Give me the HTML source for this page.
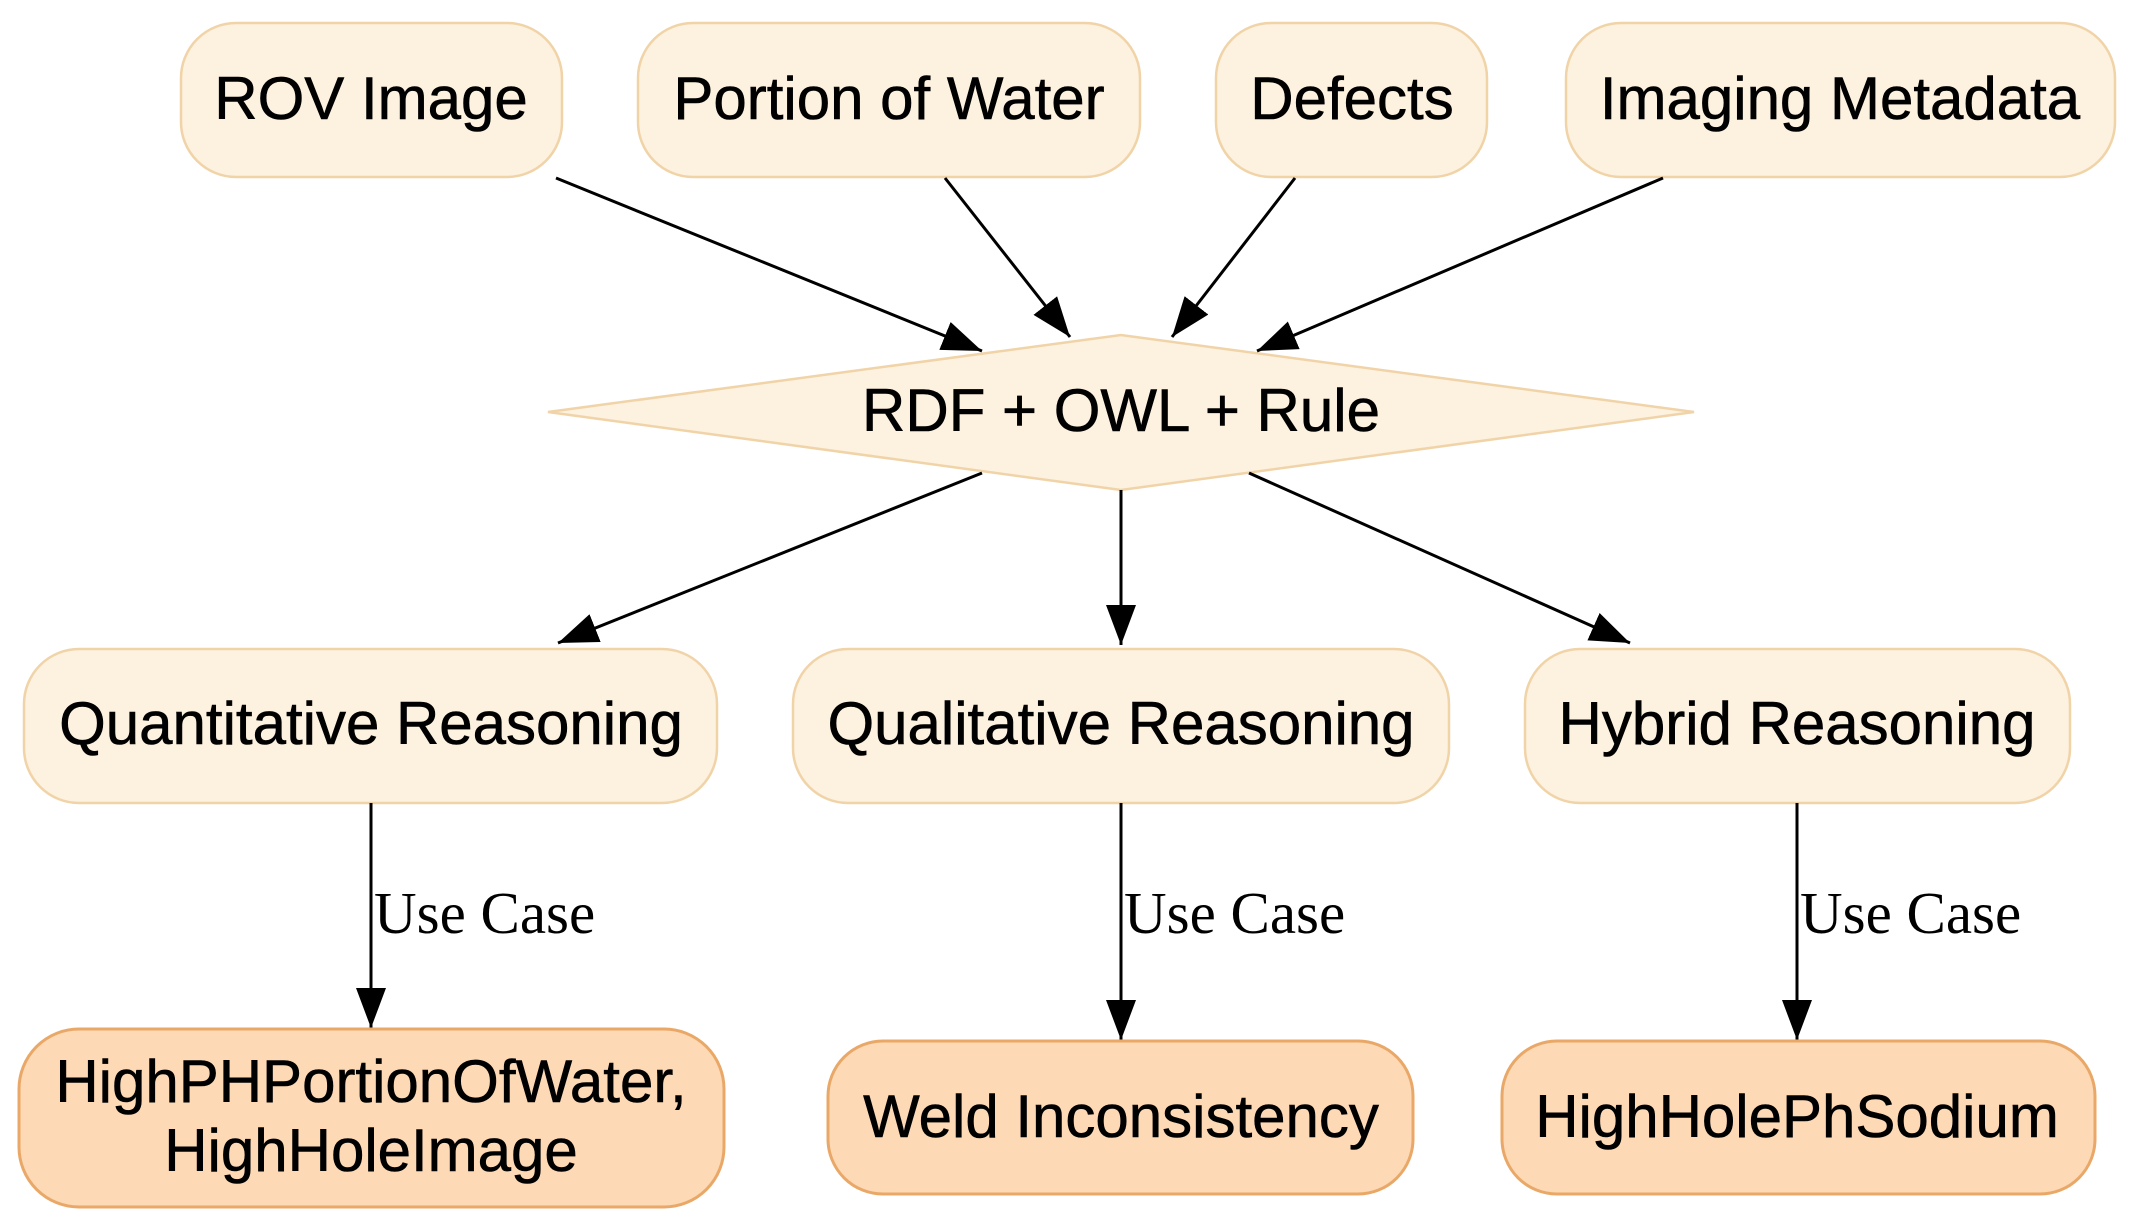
<!DOCTYPE html>
<html><head><meta charset="utf-8"><style>
html,body{margin:0;padding:0;background:#fff;}
svg{display:block;}
.n{fill:#fdf1df;stroke:#f1d3a8;stroke-width:2.5;}
.u{fill:#fdd9b5;stroke:#e9a867;stroke-width:3;}
.t{font-family:"Liberation Sans",sans-serif;font-size:60px;fill:#000;text-anchor:middle;stroke:#000;stroke-width:0.6;}
.s{font-family:"Liberation Serif",serif;font-size:59px;fill:#000;}
.l{stroke:#000;stroke-width:3;fill:none;}
</style></head><body>
<svg width="2133" height="1228" viewBox="0 0 2133 1228" xmlns="http://www.w3.org/2000/svg">
<defs>
<marker id="b" viewBox="0 0 40 30" refX="40" refY="15" markerWidth="40" markerHeight="30" orient="auto" markerUnits="userSpaceOnUse"><path d="M0,0 L40,15 L0,30 z" fill="#000"/></marker></defs>

<rect class="n" x="181" y="23" width="381" height="154" rx="55"/>
<text class="t" x="371" y="119">ROV Image</text>
<rect class="n" x="638" y="23" width="502" height="154" rx="55"/>
<text class="t" x="889" y="119">Portion of Water</text>
<rect class="n" x="1216" y="23" width="271" height="154" rx="55"/>
<text class="t" x="1352" y="119">Defects</text>
<rect class="n" x="1566" y="23" width="549" height="154" rx="55"/>
<text class="t" x="1840" y="119">Imaging Metadata</text>

<polygon class="n" points="548,412 1121,335 1694,412 1121,490"/>
<text class="t" x="1121" y="431">RDF + OWL + Rule</text>

<line class="l" x1="556" y1="178" x2="982" y2="351" marker-end="url(#b)"/>
<line class="l" x1="945" y1="178" x2="1070" y2="337" marker-end="url(#b)"/>
<line class="l" x1="1295" y1="178" x2="1172" y2="337" marker-end="url(#b)"/>
<line class="l" x1="1663" y1="178" x2="1257" y2="351" marker-end="url(#b)"/>

<line class="l" x1="982" y1="473" x2="558" y2="643" marker-end="url(#b)"/>
<line class="l" x1="1121" y1="490" x2="1121" y2="645" marker-end="url(#b)"/>
<line class="l" x1="1249" y1="473" x2="1630" y2="643" marker-end="url(#b)"/>

<rect class="n" x="24" y="649" width="693" height="154" rx="55"/>
<text class="t" x="371" y="744">Quantitative Reasoning</text>
<rect class="n" x="793" y="649" width="656" height="154" rx="55"/>
<text class="t" x="1121" y="744">Qualitative Reasoning</text>
<rect class="n" x="1525" y="649" width="545" height="154" rx="55"/>
<text class="t" x="1797" y="744">Hybrid Reasoning</text>

<line class="l" x1="371" y1="803" x2="371" y2="1028" marker-end="url(#b)"/>
<line class="l" x1="1121" y1="803" x2="1121" y2="1040" marker-end="url(#b)"/>
<line class="l" x1="1797" y1="803" x2="1797" y2="1040" marker-end="url(#b)"/>
<text class="s" x="374" y="933">Use Case</text>
<text class="s" x="1124" y="933">Use Case</text>
<text class="s" x="1800" y="933">Use Case</text>

<rect class="u" x="19" y="1029" width="705" height="178" rx="60"/>
<text class="t" x="371" y="1102">HighPHPortionOfWater,</text>
<text class="t" x="371" y="1171">HighHoleImage</text>
<rect class="u" x="828" y="1041" width="585" height="153" rx="55"/>
<text class="t" x="1121" y="1137">Weld Inconsistency</text>
<rect class="u" x="1502" y="1041" width="593" height="153" rx="55"/>
<text class="t" x="1797" y="1137">HighHolePhSodium</text>
</svg>
</body></html>
